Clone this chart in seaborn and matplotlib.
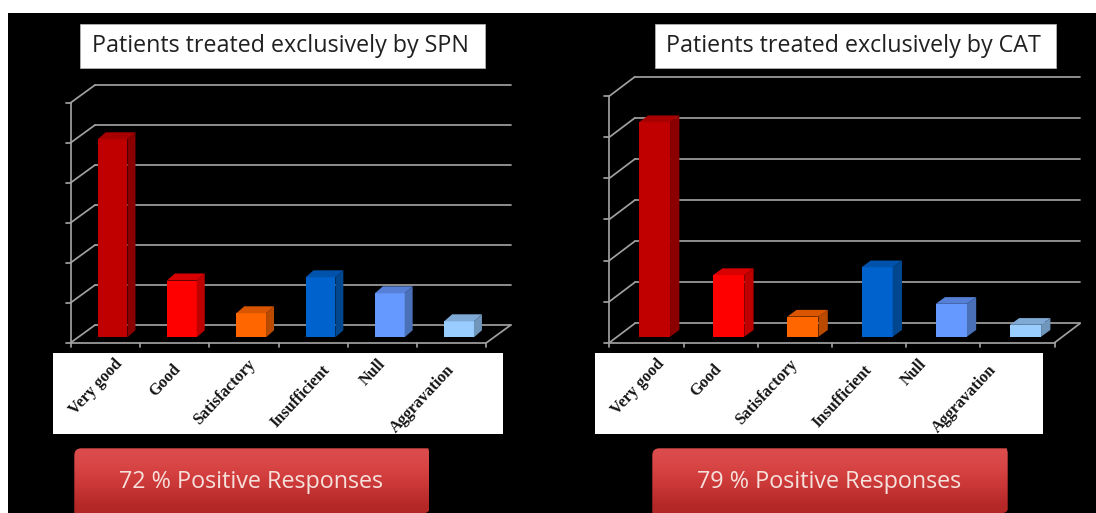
import matplotlib
matplotlib.use("Agg")
import numpy as np
import pandas as pd
import seaborn as sns
import matplotlib.pyplot as plt
from matplotlib.patches import Polygon, Rectangle, PathPatch
from matplotlib.path import Path

# Response categories and share of patients (%) in each treatment group
categories = ["Very good", "Good", "Satisfactory", "Insufficient", "Null", "Aggravation"]
spn_values = [49.5, 14.2, 6.0, 15.0, 11.0, 4.0]
cat_values = [52.2, 15.0, 4.9, 16.9, 8.0, 2.9]
y_ticks = [0, 10, 20, 30, 40, 50, 60]

spn_title = "Patients treated exclusively by SPN"
cat_title = "Patients treated exclusively by CAT"
spn_summary = "72 % Positive Responses"
cat_summary = "79 % Positive Responses"

front_colors = ["#C00000", "#FF0000", "#FF6600", "#0062CC", "#6699FF", "#99CCFF"]
side_colors = ["#8A0000", "#BE0000", "#B94A00", "#00478F", "#4A70B8", "#7096BC"]
top_colors = ["#A80000", "#D80000", "#D95500", "#0052AB", "#5580D6", "#80AAD6"]

W, H = 1096, 513
GRID = "#A0A0A0"
LABEL_FONT = ["Liberation Serif"]
BOX_FONT = ["Open Sans"]

sns.set_theme(style="white")
fig = plt.figure(figsize=(W / 100, H / 100), dpi=100, facecolor="white")

# Full-canvas layer in pixel units for the slide background, boxes and captions
bg = fig.add_axes([0, 0, 1, 1], zorder=0)
bg.set_xlim(0, W)
bg.set_ylim(H, 0)
bg.axis("off")
bg.add_patch(Rectangle((8, 13), W - 8, H - 13, color="black", lw=0))


def draw_chart(values, slot_left, spacing, base_y, ppu, bar_width,
               front_shift, wall_shift, bar_depth):
    """Draw the pseudo-3D bar chart; all lengths are in canvas pixels."""
    left = slot_left / W
    bottom = 1 - base_y / H
    ax = fig.add_axes([left, bottom, 6 * spacing / W, 60 * ppu / H], zorder=2)
    ax.patch.set_alpha(0)

    df = pd.DataFrame({"response": categories, "share": values})
    sns.barplot(data=df, x="response", y="share", hue="response",
                palette=front_colors, saturation=1, width=bar_width,
                legend=False, linewidth=0, ax=ax, zorder=3)
    ax.set_xlim(-0.5, 5.5)
    ax.set_ylim(0, 60)
    ax.axis("off")

    px = 1 / spacing
    py = 1 / ppu
    # Axis corner on the front edge of the floor and on the back wall
    fx0, fy0 = -0.5 - front_shift[0] * px, -front_shift[1] * py
    fx1 = fx0 + 6
    wx0, wy0 = -0.5 + wall_shift[0] * px, wall_shift[1] * py
    wx1 = wx0 + 6

    line = dict(color=GRID, lw=1.25, clip_on=False, zorder=1, solid_capstyle="round")
    for t in y_ticks:
        ax.plot([wx0, wx1], [wy0 + t, wy0 + t], **line)
        ax.plot([fx0, wx0], [fy0 + t, wy0 + t], **line)
        ax.plot([fx0 - 5 * px, fx0], [fy0 + t, fy0 + t], **line)
    ax.plot([fx0, fx0], [fy0, fy0 + y_ticks[-1]], **line)
    ax.plot([fx0, fx1], [fy0, fy0], **line)
    ax.plot([fx1, wx1], [fy0, wy0], **line)
    for i in range(7):
        ax.plot([fx0 + i, fx0 + i], [fy0, fy0 - 4 * py], **line)

    # Extrude each bar from the rectangle the barplot produced
    bars = sorted((b for c in ax.containers for b in c), key=lambda b: b.get_x())
    ddx, ddy = bar_depth[0] * px, bar_depth[1] * py
    for bar, side, top in zip(bars, side_colors, top_colors):
        x0, x1 = bar.get_x(), bar.get_x() + bar.get_width()
        h = bar.get_height()
        ax.add_patch(Polygon([(x1, 0), (x1 + ddx, ddy), (x1 + ddx, h + ddy), (x1, h)],
                             color=side, lw=0, clip_on=False, zorder=3))
        ax.add_patch(Polygon([(x0, h), (x1, h), (x1 + ddx, h + ddy), (x0 + ddx, h + ddy)],
                             color=top, lw=0, clip_on=False, zorder=3))
    return ax


def draw_title(x0, x1, text, tx):
    bg.add_patch(Rectangle((x0, 23.5), x1 - x0, 44, fc="white", ec="#BDBDBD", lw=0.5))
    bg.text(tx, 46, text, family=BOX_FONT, fontsize=16.75, color="#202020",
            ha="center", va="center")


def draw_labels(x0, x1, dx):
    box = Rectangle((x0, 352.7), x1 - x0, 81, fc="white", lw=0)
    bg.add_patch(box)
    ends = [(120, 361), (178, 367), (253, 362), (328, 367), (383, 362), (452, 367)]
    for name, (ex, ey) in zip(categories, ends):
        t = bg.text(ex + dx, ey, name, family=LABEL_FONT, fontweight="bold",
                    fontsize=11.7, color="#141414", rotation=47,
                    rotation_mode="anchor", ha="right", va="center")
        t.set_clip_path(box)


def draw_badge(x0, x1, text):
    y0, y1 = 448.3, 513
    r = 7
    verts = [(x0, y1), (x0, y0 + r), (x0, y0), (x0 + r, y0), (x1 - 1, y0),
             (x1, y0 + 4), (x1, y1 - 4), (x1, y1 - 1), (x1 - 4, y1), (x0, y1)]
    codes = [Path.MOVETO, Path.LINETO, Path.CURVE3, Path.CURVE3, Path.LINETO,
             Path.LINETO, Path.LINETO, Path.CURVE3, Path.CURVE3, Path.CLOSEPOLY]
    outline = PathPatch(Path(verts, codes), fc="none", lw=0)
    bg.add_patch(outline)
    shade = np.array([[0.86, 0.30, 0.30], [0.84, 0.25, 0.25], [0.78, 0.21, 0.21],
                      [0.70, 0.15, 0.15]])[:, None, :]
    im = bg.imshow(shade, extent=(x0, x1, y1, y0), aspect="auto",
                   interpolation="bicubic", zorder=1)
    im.set_clip_path(outline)
    bg.text((x0 + x1) / 2 - 0.5, 482.5, text, family=BOX_FONT, fontsize=16.8,
            color="#F6E0DC", ha="center", va="center", zorder=2)
    bg.set_xlim(0, W)
    bg.set_ylim(H, 0)


draw_chart(spn_values, 77.9, 69.3, 337.3, 4.0, 0.43, (7.2, 5.4), (17.1, 12.3), (8, 7))
draw_chart(cat_values, 617.4, 74.2, 336.7, 4.11, 0.42, (8.1, 6.0), (17.6, 13.4), (9.3, 6.7))

draw_title(80, 484.7, spn_title, 280.5)
draw_title(654.7, 1055.7, cat_title, 853.5)
draw_labels(53.3, 502.7, 0)
draw_labels(595, 1043.3, 541.5)
draw_badge(74.3, 429.3, spn_summary)
draw_badge(652.3, 1007.7, cat_summary)

fig.savefig("out.png", dpi=100, facecolor=fig.get_facecolor())
